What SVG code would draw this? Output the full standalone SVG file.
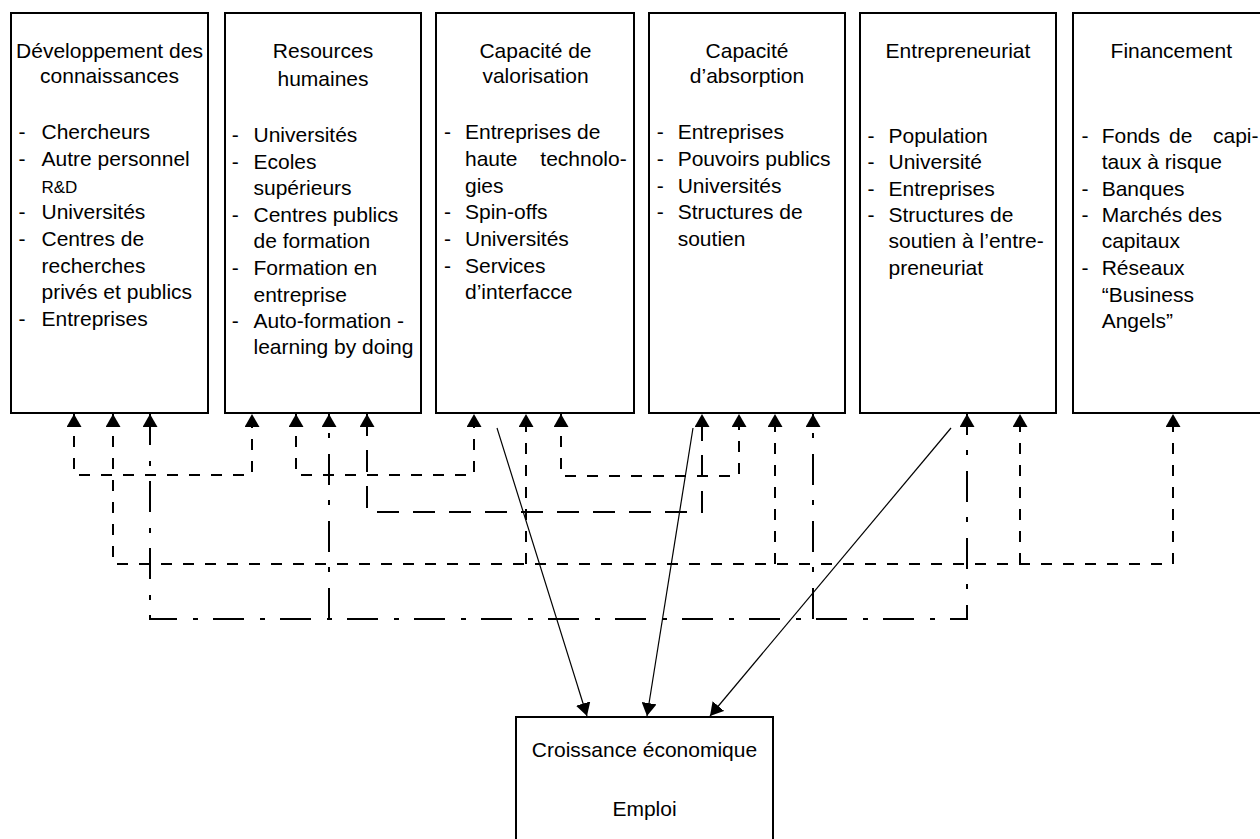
<svg xmlns="http://www.w3.org/2000/svg" width="1260" height="839" viewBox="0 0 1260 839">
<defs>
<marker id="ah" viewBox="0 0 13 15" refX="13" refY="7.5" markerWidth="13" markerHeight="15" markerUnits="userSpaceOnUse" orient="auto-start-reverse"><path d="M0,0 L13,7.5 L0,15 z" fill="#000"/></marker>
</defs>
<style>
.box{fill:#fff;stroke:#000;stroke-width:2}
text{font-family:"Liberation Sans",Arial,Helvetica,sans-serif;font-size:21px;fill:#000}
.t{text-anchor:middle}
.sm{font-size:17px}
.c{fill:none;stroke:#000;stroke-width:2}
.d{stroke-dasharray:11 11}
.ld{stroke-dasharray:22 14}
.dd{stroke-dasharray:31 16 5 15}
.s{fill:none;stroke:#000;stroke-width:1.2}
</style>
<rect width="1260" height="839" fill="#fff"/>

<g id="node-developpement">
<rect class="box" x="11" y="13" width="197" height="400"/>
<text class="t" x="109.5" y="58.3">Développement des</text>
<text class="t" x="109.5" y="82.7">connaissances</text>
<text x="18.4" y="139">-</text><text x="41.5" y="139">Chercheurs</text>
<text x="18.4" y="166">-</text><text x="41.5" y="166">Autre personnel</text>
<text class="sm" x="41.5" y="193">R&amp;D</text>
<text x="18.4" y="219.3">-</text><text x="41.5" y="219.3">Universités</text>
<text x="18.4" y="246">-</text><text x="41.5" y="246">Centres de</text>
<text x="41.5" y="272.7">recherches</text>
<text x="41.5" y="299.3">privés et publics</text>
<text x="18.4" y="326">-</text><text x="41.5" y="326">Entreprises</text>
</g>

<g id="node-ressources">
<rect class="box" x="225" y="13" width="196" height="400"/>
<text class="t" x="323" y="58.3">Resources</text>
<text class="t" x="323" y="86">humaines</text>
<text x="231.8" y="141.7">-</text><text x="253.5" y="141.7">Universités</text>
<text x="231.8" y="168.7">-</text><text x="253.5" y="168.7">Ecoles</text>
<text x="253.5" y="194.7">supérieurs</text>
<text x="231.8" y="221.7">-</text><text x="253.5" y="221.7">Centres publics</text>
<text x="253.5" y="248.3">de formation</text>
<text x="231.8" y="275">-</text><text x="253.5" y="275">Formation en</text>
<text x="253.5" y="301.7">entreprise</text>
<text x="231.8" y="328.3">-</text><text x="253.5" y="328.3">Auto-formation -</text>
<text x="253.5" y="354.3">learning by doing</text>
</g>

<g id="node-valorisation">
<rect class="box" x="436" y="13" width="198" height="400"/>
<text class="t" x="535.5" y="58.3">Capacité de</text>
<text class="t" x="535.5" y="82.7">valorisation</text>
<text x="444" y="139.3">-</text><text x="465" y="139.3">Entreprises de</text>
<text y="166"><tspan x="465">haute</tspan><tspan x="626.7" text-anchor="end">technolo-</tspan></text>
<text x="465" y="192.7">gies</text>
<text x="444" y="219.3">-</text><text x="465" y="219.3">Spin-offs</text>
<text x="444" y="246">-</text><text x="465" y="246">Universités</text>
<text x="444" y="272.7">-</text><text x="465" y="272.7">Services</text>
<text x="465" y="299.3">d’interfacce</text>
</g>

<g id="node-absorption">
<rect class="box" x="649" y="13" width="196" height="400"/>
<text class="t" x="747" y="58.3">Capacité</text>
<text class="t" x="747" y="82.7">d’absorption</text>
<text x="656.8" y="139.3">-</text><text x="677.7" y="139.3">Entreprises</text>
<text x="656.8" y="166">-</text><text x="677.7" y="166">Pouvoirs publics</text>
<text x="656.8" y="192.7">-</text><text x="677.7" y="192.7">Universités</text>
<text x="656.8" y="219.3">-</text><text x="677.7" y="219.3">Structures de</text>
<text x="677.7" y="246">soutien</text>
</g>

<g id="node-entrepreneuriat">
<rect class="box" x="860" y="13" width="196" height="400"/>
<text class="t" x="958" y="58.3">Entrepreneuriat</text>
<text x="867.4" y="142.7">-</text><text x="888.5" y="142.7">Population</text>
<text x="867.4" y="169.3">-</text><text x="888.5" y="169.3">Université</text>
<text x="867.4" y="195.7">-</text><text x="888.5" y="195.7">Entreprises</text>
<text x="867.4" y="222">-</text><text x="888.5" y="222">Structures de</text>
<text x="888.5" y="248.3">soutien à l’entre-</text>
<text x="888.5" y="275">preneuriat</text>
</g>

<g id="node-financement">
<rect class="box" x="1073" y="13" width="197" height="400"/>
<text class="t" x="1171.3" y="58.3">Financement</text>
<text x="1081.4" y="142.7">-</text>
<text y="142.7"><tspan x="1101.7">Fonds</tspan><tspan x="1169">de</tspan><tspan x="1258.5" text-anchor="end">capi-</tspan></text>
<text x="1101.7" y="169.3">taux à risque</text>
<text x="1081.4" y="195.7">-</text><text x="1101.7" y="195.7">Banques</text>
<text x="1081.4" y="222">-</text><text x="1101.7" y="222">Marchés des</text>
<text x="1101.7" y="248.3">capitaux</text>
<text x="1081.4" y="275">-</text><text x="1101.7" y="275">Réseaux</text>
<text x="1101.7" y="301.7">“Business</text>
<text x="1101.7" y="328.3">Angels”</text>
</g>

<g id="node-croissance">
<rect class="box" x="516" y="717" width="257" height="140"/>
<text class="t" x="644.5" y="757.3">Croissance économique</text>
<text class="t" x="644.5" y="816">Emploi</text>
</g>

<g id="connectors">
<path class="c d" d="M74,414 V475 H252 V414" marker-start="url(#ah)" marker-end="url(#ah)"/>
<path class="c d" d="M296,414 V475 H474 V414" marker-start="url(#ah)" marker-end="url(#ah)"/>
<path class="c d" d="M561,414 V476 H739 V414" marker-start="url(#ah)" marker-end="url(#ah)"/>
<path class="c ld" d="M367,414 V512 H702 V414" marker-start="url(#ah)" marker-end="url(#ah)"/>
<path class="c d" d="M113,414 V564 H1173 V414" marker-start="url(#ah)" marker-end="url(#ah)"/>
<path class="c d" d="M526,564 V414" marker-end="url(#ah)"/>
<path class="c d" d="M775,564 V414" marker-end="url(#ah)"/>
<path class="c d" d="M1020,564 V414" marker-end="url(#ah)"/>
<path class="c dd" d="M150,414 V619 H967 V414" marker-start="url(#ah)" marker-end="url(#ah)"/>
<path class="c dd" d="M329,619 V414" marker-end="url(#ah)"/>
<path class="c dd" d="M813,619 V414" marker-end="url(#ah)"/>
<path class="s" d="M497,428 L587,716" marker-end="url(#ah)"/>
<path class="s" d="M693,428 L647,716" marker-end="url(#ah)"/>
<path class="s" d="M951,428 L710,716" marker-end="url(#ah)"/>
</g>
</svg>
